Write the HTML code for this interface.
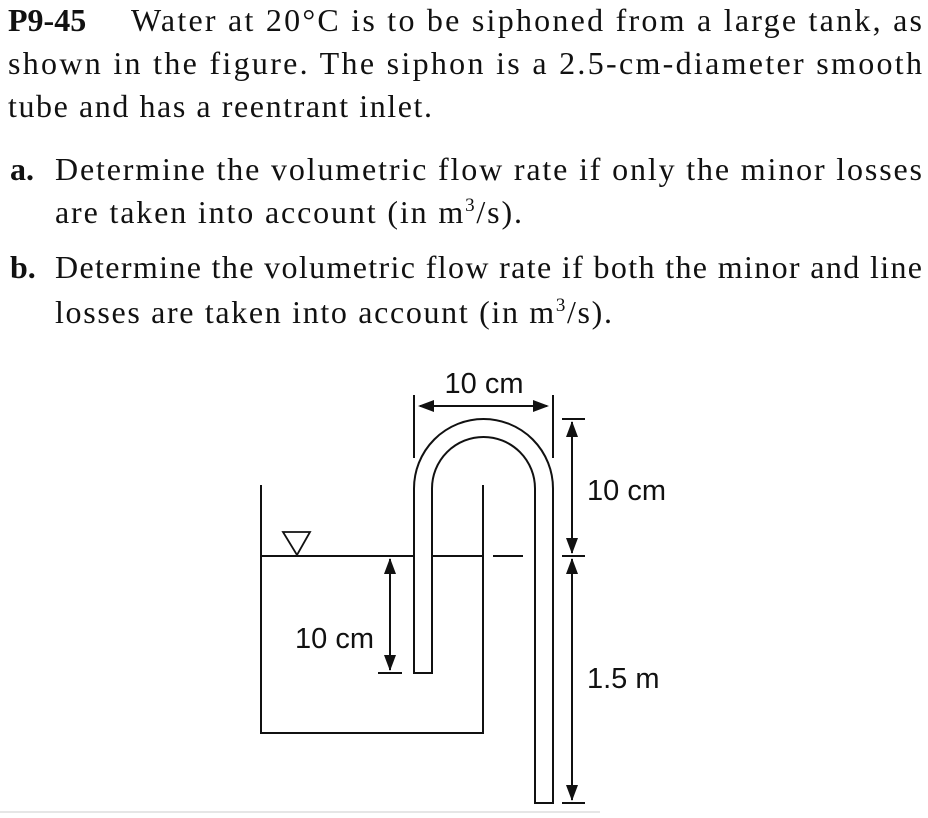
<!DOCTYPE html>
<html><head><meta charset="utf-8"><style>
html,body{margin:0;padding:0;background:#fff;}
svg{display:block;}
.s{font-family:"Liberation Serif","Times New Roman",serif;font-size:32px;fill:#111;}
.f{font-family:"Liberation Sans",Arial,sans-serif;font-size:29px;fill:#111;}
</style></head><body>
<svg width="928" height="818" viewBox="0 0 928 818" xmlns="http://www.w3.org/2000/svg">
<text class="s" x="8" y="31" font-weight="bold">P9-45</text>
<text class="s" x="131" y="31" textLength="791" lengthAdjust="spacing">Water at 20°C is to be siphoned from a large tank, as</text>
<text class="s" x="8" y="74" textLength="914" lengthAdjust="spacing">shown in the figure. The siphon is a 2.5-cm-diameter smooth</text>
<text class="s" x="8" y="117" textLength="424" lengthAdjust="spacing">tube and has a reentrant inlet.</text>
<text class="s" x="10" y="180" font-weight="bold">a.</text>
<text class="s" x="55" y="180" textLength="867" lengthAdjust="spacing">Determine the volumetric flow rate if only the minor losses</text>
<text class="s" x="55" y="223" textLength="467" lengthAdjust="spacing">are taken into account (in m<tspan dy="-12" font-size="19">3</tspan><tspan dy="12">/s).</tspan></text>
<text class="s" x="10" y="278" font-weight="bold">b.</text>
<text class="s" x="55" y="278" textLength="867" lengthAdjust="spacing">Determine the volumetric flow rate if both the minor and line</text>
<text class="s" x="55" y="323" textLength="557" lengthAdjust="spacing">losses are taken into account (in m<tspan dy="-12" font-size="19">3</tspan><tspan dy="12">/s).</tspan></text>

<g stroke="#111" stroke-width="2" fill="none">
<polyline points="261,485 261,733 483,733 483,485"/>
<line x1="261" y1="556" x2="414" y2="556"/>
<line x1="432" y1="556" x2="483" y2="556"/>
<line x1="493" y1="556" x2="523" y2="556"/>
<path d="M414,673 L414,488.5 A69.5,69.5 0 0 1 553,488.5 L553,803 L535,803 L535,488.5 A51.5,51.5 0 0 0 432,488.5 L432,673 Z"/>
<line x1="414" y1="395" x2="414" y2="458"/>
<line x1="553" y1="395" x2="553" y2="458"/>
<line x1="420" y1="406" x2="547" y2="406"/>
<line x1="562" y1="419" x2="585" y2="419"/>
<line x1="562" y1="556" x2="585" y2="556"/>
<line x1="562" y1="803" x2="585" y2="803"/>
<line x1="572" y1="422" x2="572" y2="553"/>
<line x1="572" y1="559" x2="572" y2="800"/>
<line x1="390" y1="559" x2="390" y2="670"/>
<line x1="378" y1="673" x2="402" y2="673"/>
<polygon points="283,532 310,532 297,555" stroke-width="1.8"/>
<line x1="0" y1="812" x2="600" y2="812" stroke="#ccc" stroke-width="1"/>
</g>
<g fill="#111">
<polygon points="418,406 434,400 434,412"/>
<polygon points="549,406 533,400 533,412"/>
<polygon points="572,421 566,437 578,437"/>
<polygon points="572,554 566,538 578,538"/>
<polygon points="572,558 566,574 578,574"/>
<polygon points="572,801 566,785 578,785"/>
<polygon points="390,558 384,574 396,574"/>
<polygon points="390,671 384,655 396,655"/>
</g>
<text class="f" x="484" y="393" text-anchor="middle">10 cm</text>
<text class="f" x="587" y="500">10 cm</text>
<text class="f" x="587" y="688">1.5 m</text>
<text class="f" x="374" y="648" text-anchor="end">10 cm</text>
</svg>
</body></html>
